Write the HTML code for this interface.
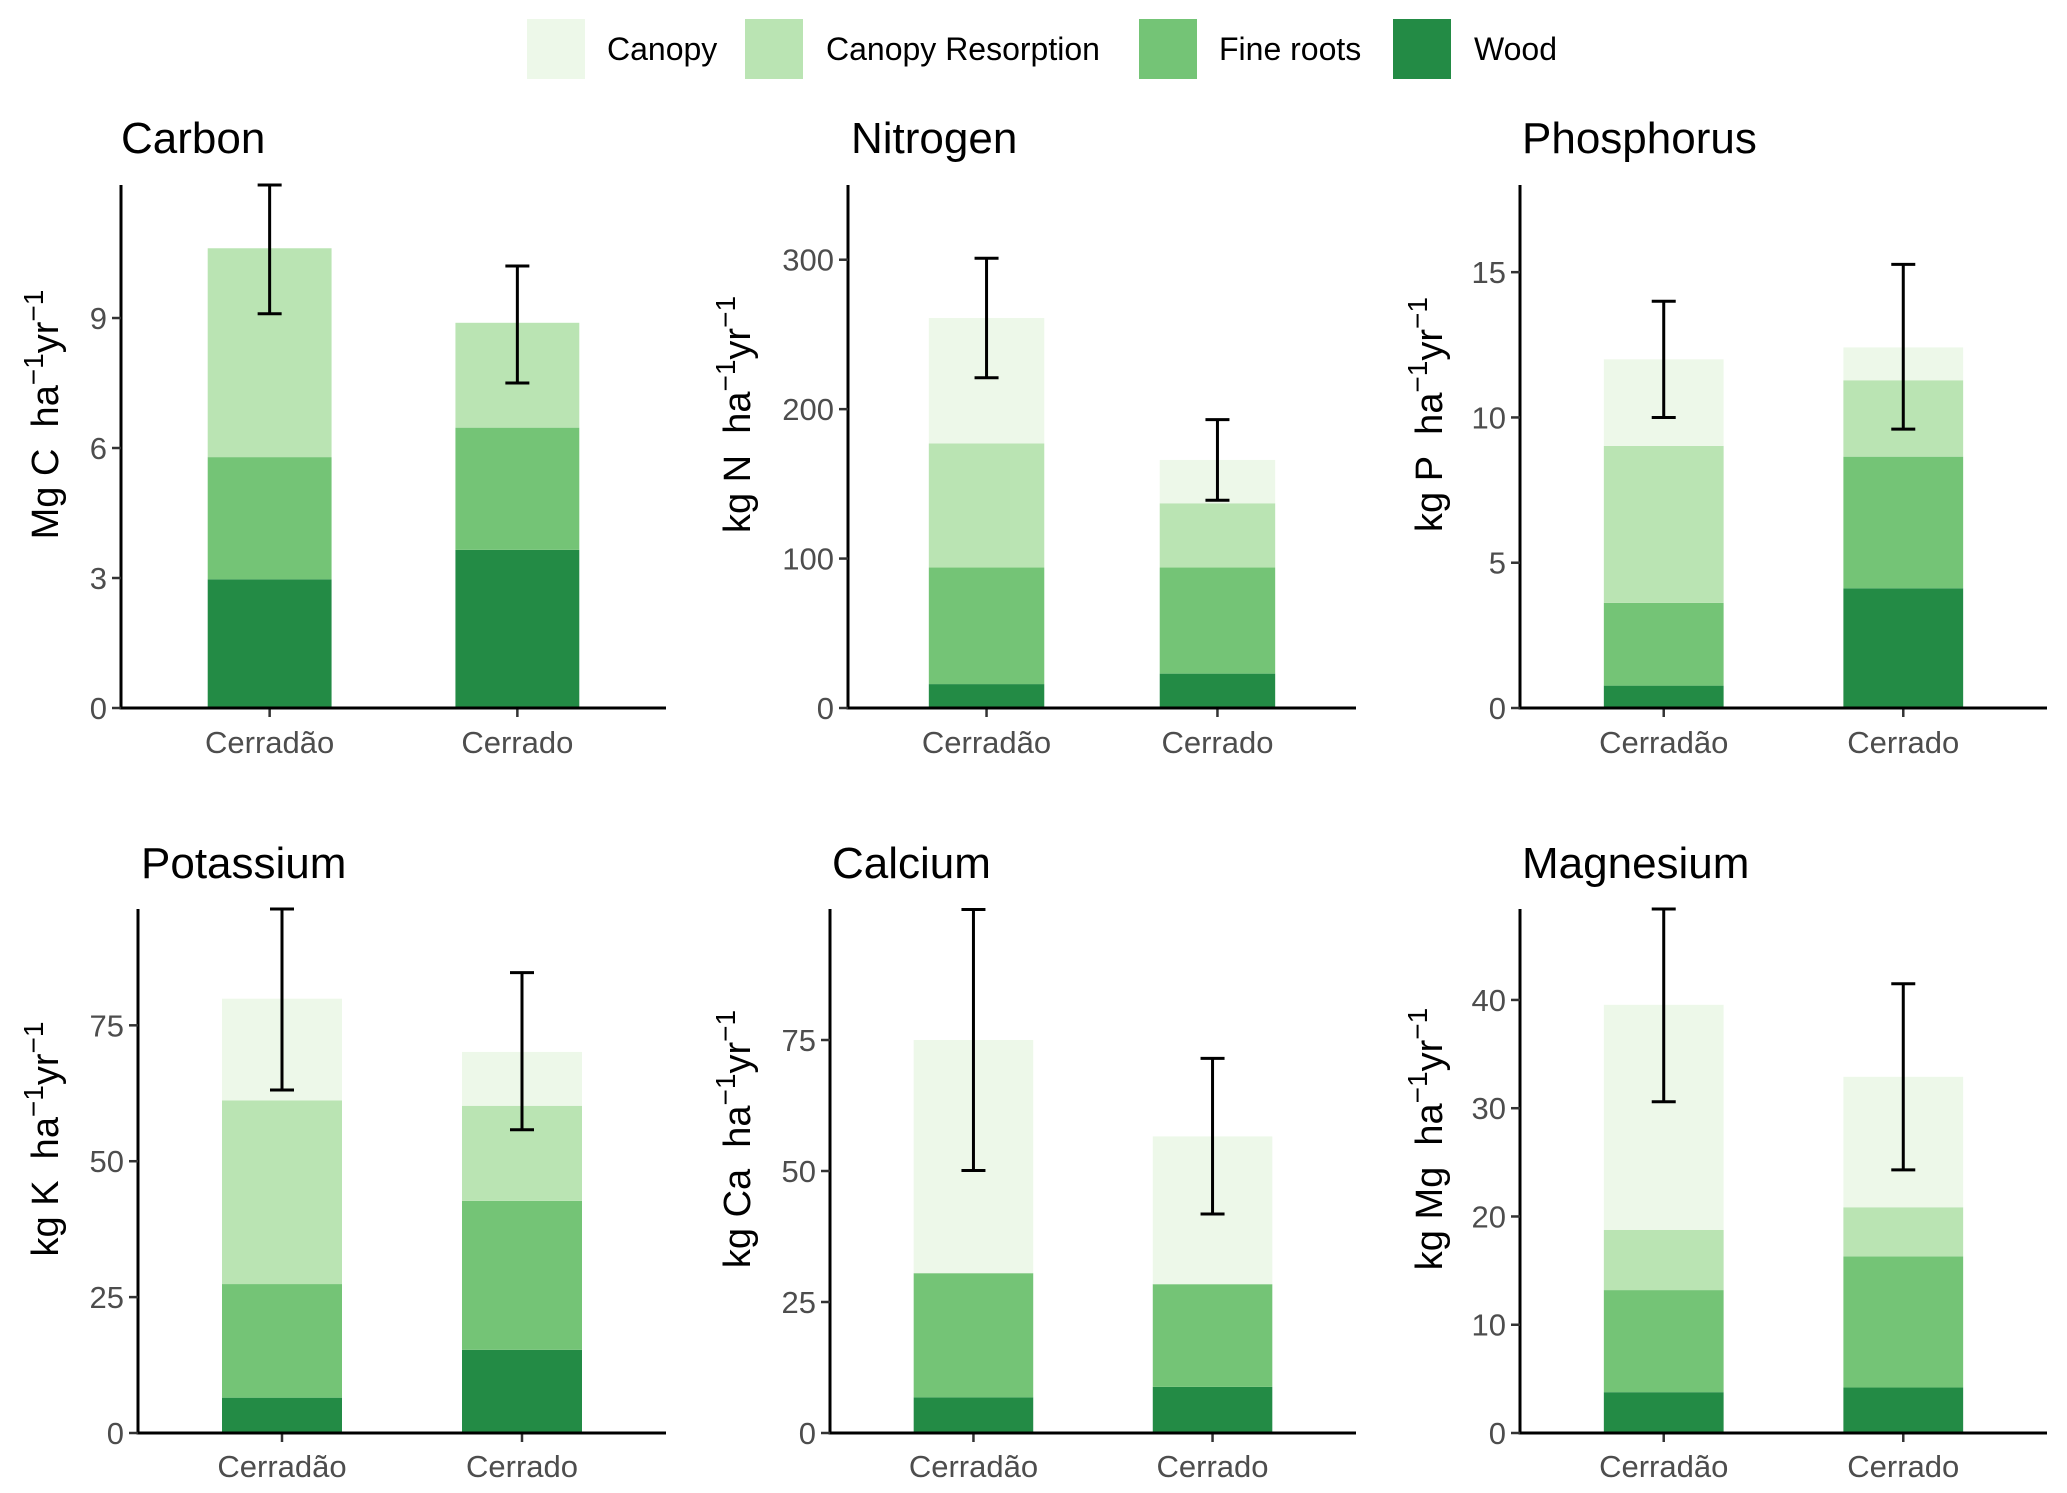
<!DOCTYPE html>
<html><head><meta charset="utf-8">
<style>
html,body{margin:0;padding:0;background:#fff;}
svg{display:block;font-family:"Liberation Sans",Arial,sans-serif;}
</style></head>
<body>
<svg id="chart" width="2067" height="1493" viewBox="0 0 2067 1493" xmlns="http://www.w3.org/2000/svg">
  <rect width="2067" height="1493" fill="#fff"/>
  <g>
    <g><rect x="527" y="19" width="58" height="60" fill="#edf8e9"/><text x="607" y="60" font-size="32">Canopy</text></g>
    <g><rect x="745" y="19" width="58" height="60" fill="#bae4b3"/><text x="826" y="60" font-size="32">Canopy Resorption</text></g>
    <g><rect x="1139" y="19" width="58" height="60" fill="#74c476"/><text x="1219" y="60" font-size="32">Fine roots</text></g>
    <g><rect x="1393" y="19" width="58" height="60" fill="#238b45"/><text x="1474" y="60" font-size="32">Wood</text></g>
  </g>
  <g id="panels"></g>
</svg>
<script>
// ---- data ----
const categories = ["Cerradão", "Cerrado"];
const componentNames = ["Wood", "Fine roots", "Canopy Resorption", "Canopy"];
const panelTitles = ["Carbon", "Nitrogen", "Phosphorus", "Potassium", "Calcium", "Magnesium"];
const unitElements = ["Mg C", "kg N", "kg P", "kg K", "kg Ca", "kg Mg"];
// per panel, per category: [wood, fine roots, canopy resorption, canopy]
const woodValues      = [[2.97, 3.65], [16, 23], [0.77, 4.12], [6.5, 15.3], [6.8, 8.8], [3.77, 4.2]];
const rootsValues     = [[2.82, 2.82], [78, 71], [2.85, 4.53], [20.9, 27.4], [23.7, 19.6], [9.43, 12.1]];
const resorbValues    = [[4.82, 2.42], [83, 43], [5.4, 2.63], [33.8, 17.5], [0, 0], [5.55, 4.55]];
const canopyValues    = [[0, 0], [84, 29], [2.98, 1.13], [18.7, 9.9], [44.5, 28.2], [20.8, 12.05]];
const errLow          = [[9.1, 7.5], [221, 139], [10.0, 9.6], [63.1, 55.8], [50.1, 41.8], [30.6, 24.3]];
const errHigh         = [[12.07, 10.2], [301, 193], [14.0, 15.27], [96.4, 84.7], [99.9, 71.5], [48.4, 41.5]];
const yMax            = [12.07, 350, 18, 96.4, 100, 48.4];
const yTicks          = [[0,3,6,9], [0,100,200,300], [0,5,10,15], [0,25,50,75], [0,25,50,75], [0,10,20,30,40]];

// ---- layout (not data) ----
const layout = [
  {x0:121, x1:666, top:185, bot:708, tx:121, ty:153, lx:46, xlab:753},
  {x0:848, x1:1356, top:185, bot:708, tx:851, ty:153, lx:738, xlab:753},
  {x0:1520, x1:2047, top:185, bot:708, tx:1522, ty:153, lx:1430, xlab:753},
  {x0:138, x1:666, top:909, bot:1433, tx:141, ty:878, lx:46, xlab:1477},
  {x0:830, x1:1356, top:909, bot:1433, tx:832, ty:878, lx:738, xlab:1477},
  {x0:1520, x1:2047, top:909, bot:1433, tx:1522, ty:878, lx:1430, xlab:1477}
];
const colors = ["#238b45", "#74c476", "#bae4b3", "#edf8e9"];
const NS = "http://www.w3.org/2000/svg";
const root = document.getElementById("panels");
function mk(tag, attrs, parent){ const e=document.createElementNS(NS,tag); for(const k in attrs) e.setAttribute(k,attrs[k]); parent.appendChild(e); return e; }

panelTitles.forEach((title, p) => {
  const L = layout[p];
  const g = mk("g", {}, root);
  
  
  const yScale = v => L.bot - v / yMax[p] * (L.bot - L.top);
  const xScale = i => L.x0 + (i + 1 - 0.4) / 2.2 * (L.x1 - L.x0);
  const bw = 0.5 / 2.2 * (L.x1 - L.x0);
  const series = [woodValues, rootsValues, resorbValues, canopyValues];
  categories.forEach((cat, i) => {
    let cum = 0;
    series.forEach((s, k) => {
      const v = s[p][i];
      if (v <= 0) return;
      const r = mk("rect", {x: xScale(i) - bw/2, y: yScale(cum + v), width: bw, height: yScale(cum) - yScale(cum + v), fill: colors[k]}, g);
      
      
      cum += v;
    });
    const cx = xScale(i);
    const eg = mk("g", {stroke:"#000", "stroke-width":3, fill:"none"}, g);
    
    
    mk("line", {x1:cx, x2:cx, y1:yScale(errLow[p][i]), y2:yScale(errHigh[p][i])}, eg);
    mk("line", {x1:cx-12, x2:cx+12, y1:yScale(errLow[p][i]), y2:yScale(errLow[p][i])}, eg);
    mk("line", {x1:cx-12, x2:cx+12, y1:yScale(errHigh[p][i]), y2:yScale(errHigh[p][i])}, eg);
    mk("line", {x1:cx, x2:cx, y1:L.bot, y2:L.bot+9, stroke:"#333", "stroke-width":2.5}, g);
    const xl = mk("text", {x:cx, y:L.xlab, "font-size":31, fill:"#4d4d4d", "text-anchor":"middle"}, g);
    xl.textContent = cat;
    
    
  });
  const ya = mk("line", {x1:L.x0, x2:L.x0, y1:L.top, y2:L.bot, stroke:"#000", "stroke-width":3}, g);
  
  
  const xa = mk("line", {x1:L.x0-1.5, x2:L.x1, y1:L.bot, y2:L.bot, stroke:"#000", "stroke-width":3}, g);
  
  
  yTicks[p].forEach(t => {
    const y = yScale(t);
    mk("line", {x1:L.x0-9, x2:L.x0, y1:y, y2:y, stroke:"#333", "stroke-width":2.5}, g);
    const tl = mk("text", {x:L.x0-14, y:y+11, "font-size":31, fill:"#4d4d4d", "text-anchor":"end"}, g);
    tl.textContent = t;
    
    
  });
  const tt = mk("text", {x:L.tx, y:L.ty, "font-size":44, fill:"#000"}, g);
  tt.textContent = title;
  
  
  const cy = (L.top + L.bot) / 2 - 32;
  const yl = mk("text", {x:0, y:0, "font-size":38, fill:"#000", "text-anchor":"middle", transform:`translate(${L.lx+12},${cy}) rotate(-90)`}, g);
  
  
  const parts = [[unitElements[p].replace(" ", "\u00a0") + "\u00a0\u00a0ha", 0, 0], ["−1", 1, -15], ["yr", 0, 15], ["−1", 1, -15]];
  parts.forEach(([s, sup, dy]) => {
    const ts = mk("tspan", sup ? {"font-size":28, dy:dy} : {dy:dy}, yl);
    ts.textContent = s;
  });
});
</script>
</body></html>
